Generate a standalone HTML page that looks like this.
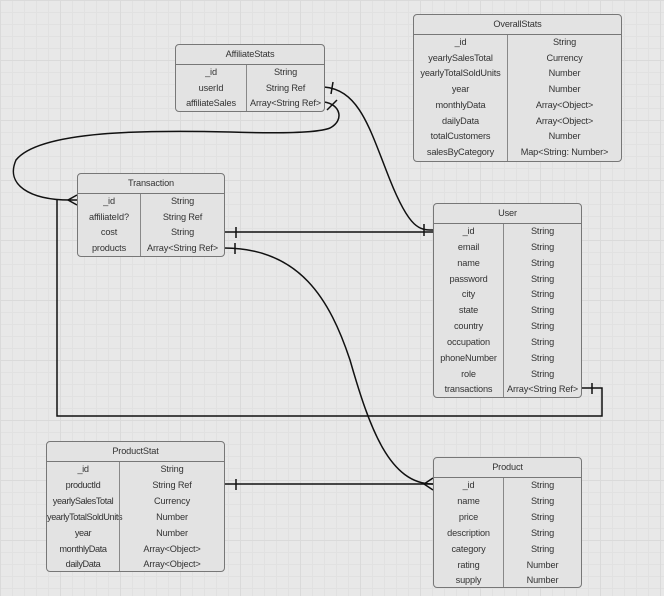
<!DOCTYPE html>
<html><head><meta charset="utf-8"><style>
body{margin:0;width:664px;height:596px;overflow:hidden;background:#e8e8e8;
background-image:linear-gradient(#dadada 1px,transparent 1px),linear-gradient(90deg,#dadada 1px,transparent 1px),linear-gradient(#e1e1e1 1px,transparent 1px),linear-gradient(90deg,#e1e1e1 1px,transparent 1px);
background-size:60px 60px,60px 60px,12px 12px,12px 12px;font-family:"Liberation Sans",sans-serif;font-size:9.2px;letter-spacing:-0.15px;color:#333;position:relative}
.box{position:absolute;background:#e3e3e3;border:1px solid #777;border-radius:4px;box-sizing:border-box;overflow:hidden}
.hd{border-bottom:1px solid #777;text-align:center;box-sizing:border-box}
.bd{display:flex}
.bd div{text-align:center;white-space:nowrap}
.bd div+div{border-left:1px solid #888;flex:1}
svg{position:absolute;left:0;top:0}
</style></head><body>
<svg width="664" height="596" fill="none" stroke="#111" stroke-width="1.5">
<path d="M324 87 C 360 90, 370 130, 390 180 S 420 230, 433 230"/>
<path d="M333 82 L331 94 M424 224 L424 236"/>
<path d="M324 102 C 340 104, 345 120, 330 128 C 315 134, 260 133, 230 132 C 150 130, 40 130, 16 160 C 5 185, 30 200, 70 200 L77 200"/>
<path d="M327 110 L337 100 M77 195 L68 200 L77 205"/>
<path d="M581 388 L602 388 L602 416 L57 416 L57 200"/>
<path d="M592 383 L592 394"/>
<path d="M224 232 L433 232"/>
<path d="M236 227 L236 238"/>
<path d="M224 248 C 300 248, 330 300, 350 360 C 370 430, 390 484, 433 484"/>
<path d="M235 243 L235 254"/>
<path d="M224 484 L433 484"/>
<path d="M236 479 L236 490 M433 478 L424 484 L433 490"/>
</svg>

<div class="box" style="left:175px;top:44px;width:150px;height:68px">
<div class="hd" style="height:20px;line-height:19px">AffiliateStats</div>
<div class="bd" style="line-height:15.5px;height:48px"><div style="width:70px">_id<br>userId<br>affiliateSales</div><div>String<br>String Ref<br>Array&lt;String Ref&gt;</div></div></div>

<div class="box" style="left:413px;top:14px;width:209px;height:148px">
<div class="hd" style="height:20px;line-height:19px">OverallStats</div>
<div class="bd" style="line-height:15.7px;height:128px"><div style="width:93px">_id<br>yearlySalesTotal<br>yearlyTotalSoldUnits<br>year<br>monthlyData<br>dailyData<br>totalCustomers<br>salesByCategory</div><div>String<br>Currency<br>Number<br>Number<br>Array&lt;Object&gt;<br>Array&lt;Object&gt;<br>Number<br>Map&lt;String: Number&gt;</div></div></div>

<div class="box" style="left:77px;top:173px;width:148px;height:84px">
<div class="hd" style="height:20px;line-height:19px">Transaction</div>
<div class="bd" style="line-height:15.7px;height:64px"><div style="width:62px">_id<br>affiliateId?<br>cost<br>products</div><div>String<br>String Ref<br>String<br>Array&lt;String Ref&gt;</div></div></div>

<div class="box" style="left:433px;top:203px;width:149px;height:195px">
<div class="hd" style="height:20px;line-height:19px">User</div>
<div class="bd" style="line-height:15.85px;height:175px"><div style="width:69px">_id<br>email<br>name<br>password<br>city<br>state<br>country<br>occupation<br>phoneNumber<br>role<br>transactions</div><div>String<br>String<br>String<br>String<br>String<br>String<br>String<br>String<br>String<br>String<br>Array&lt;String Ref&gt;</div></div></div>

<div class="box" style="left:46px;top:441px;width:179px;height:131px">
<div class="hd" style="height:20px;line-height:19px">ProductStat</div>
<div class="bd" style="line-height:15.9px;height:111px"><div style="width:72px;letter-spacing:-0.4px">_id<br>productId<br>yearlySalesTotal<br>yearlyTotalSoldUnits<br>year<br>monthlyData<br>dailyData</div><div>String<br>String Ref<br>Currency<br>Number<br>Number<br>Array&lt;Object&gt;<br>Array&lt;Object&gt;</div></div></div>

<div class="box" style="left:433px;top:457px;width:149px;height:131px">
<div class="hd" style="height:20px;line-height:19px">Product</div>
<div class="bd" style="line-height:15.9px;height:111px"><div style="width:69px">_id<br>name<br>price<br>description<br>category<br>rating<br>supply</div><div>String<br>String<br>String<br>String<br>String<br>Number<br>Number</div></div></div>
</body></html>
